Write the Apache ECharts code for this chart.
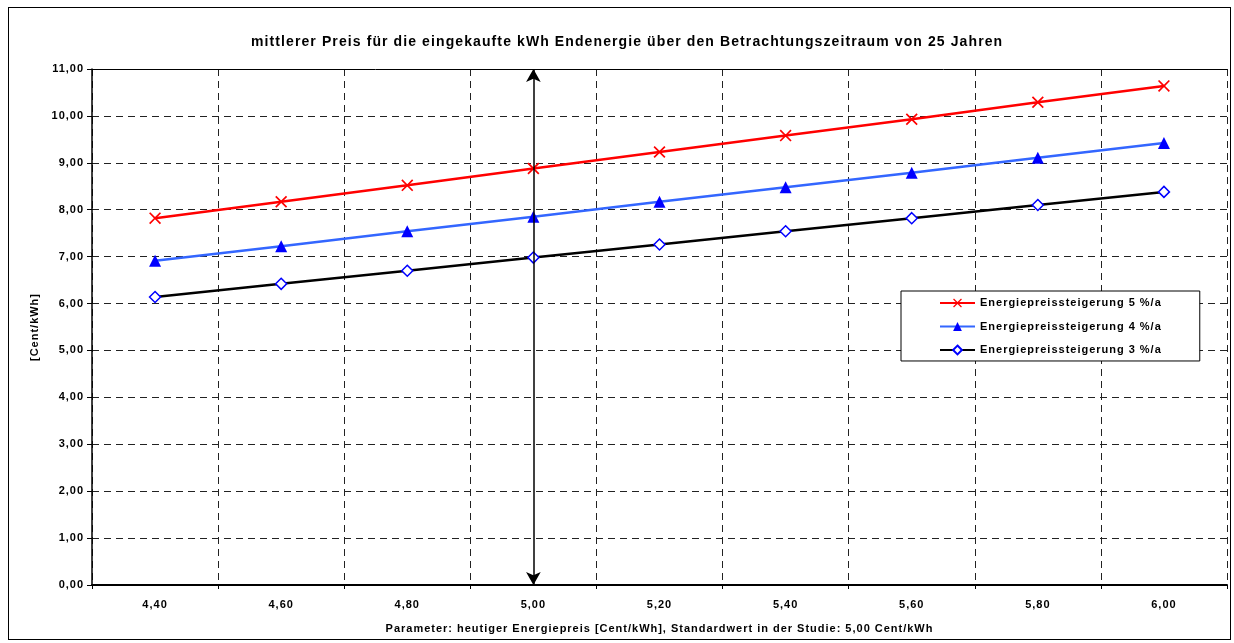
<!DOCTYPE html>
<html><head><meta charset="utf-8">
<script src="https://cdn.jsdelivr.net/npm/echarts@6/dist/echarts.min.js"></script>
<style>
html,body{margin:0;padding:0;background:#fff;}
#frame{position:absolute;left:8px;top:7px;width:1223px;height:633px;border:1px solid #000;box-sizing:border-box;}
#c{position:absolute;left:0;top:0;width:1234px;height:643px;}
</style></head>
<body>
<div id="frame"></div>
<div id="c"></div>
<script>
const categories = ['4,40','4,60','4,80','5,00','5,20','5,40','5,60','5,80','6,00'];
const series5 = [7.82, 8.17, 8.52, 8.88, 9.23, 9.58, 9.93, 10.29, 10.64];
const series4 = [6.91, 7.22, 7.54, 7.85, 8.17, 8.48, 8.79, 9.11, 9.42];
const series3 = [6.14, 6.42, 6.70, 6.98, 7.26, 7.54, 7.82, 8.10, 8.38];
const names = ['Energiepreissteigerung 5 %/a','Energiepreissteigerung 4 %/a','Energiepreissteigerung 3 %/a'];
const markerCategory = '5,00';
const yMin = 0, yMax = 11, yStep = 1;

// Excel-like wider letter spacing for canvas text
(function(){
  const P = CanvasRenderingContext2D.prototype;
  if (!('letterSpacing' in P)) return;
  function setSp(ctx){
    const m = /(\d+(?:\.\d+)?)px/.exec(ctx.font || '');
    const sz = m ? parseFloat(m[1]) : 12;
    ctx.letterSpacing = (sz >= 13 ? 1.1 : sz * 0.09).toFixed(2) + 'px';
  }
  const f = P.fillText, s = P.strokeText, mt = P.measureText;
  P.fillText = function(){ setSp(this); return f.apply(this, arguments); };
  P.strokeText = function(){ setSp(this); return s.apply(this, arguments); };
  P.measureText = function(){ setSp(this); return mt.apply(this, arguments); };
})();

const FONT = 'Liberation Sans, Arial, sans-serif';
const chart = echarts.init(document.getElementById('c'), null, {renderer:'canvas'});
const xPath = 'path://M0,1L1,0L5,4L9,0L10,1L6,5L10,9L9,10L5,6L1,10L0,9L4,5Z';
const dash = [7,5];
chart.setOption({
  animation:false,
  backgroundColor:'transparent',
  title:{text:'mittlerer Preis für die eingekaufte kWh Endenergie über den Betrachtungszeitraum von 25 Jahren',
    left:246, top:30,
    textStyle:{fontFamily:FONT,fontSize:14,fontWeight:'bold',color:'#000'}},
  grid:{left:92,right:7,top:69,bottom:58,containLabel:false},
  legend:{
    orient:'vertical', left:901, top:291,
    padding:[6,38,5,38], itemGap:11.5, itemWidth:35, itemHeight:11,
    backgroundColor:'#fff', borderColor:'#000', borderWidth:1,
    textStyle:{fontFamily:FONT,fontSize:11,fontWeight:'bold',color:'#000'},
    data:names
  },
  xAxis:[{
    type:'category', data:categories, boundaryGap:true,
    name:'Parameter: heutiger Energiepreis [Cent/kWh], Standardwert in der Studie: 5,00 Cent/kWh',
    nameLocation:'middle', nameGap:38,
    nameTextStyle:{fontFamily:FONT,fontSize:11,fontWeight:'bold',color:'#000'},
    axisLine:{lineStyle:{color:'#000',width:2}},
    axisTick:{show:true,length:4,lineStyle:{color:'#000'}},
    axisLabel:{fontFamily:FONT,fontSize:11,fontWeight:'bold',color:'#000',margin:14},
    splitLine:{show:true,lineStyle:{color:'#222',type:dash,width:1}}
  },{
    type:'category', data:categories, position:'top', boundaryGap:true,
    axisLine:{show:true,lineStyle:{color:'#000',width:1}},
    axisTick:{show:false}, axisLabel:{show:false}, splitLine:{show:false}
  }],
  yAxis:{
    type:'value', min:yMin, max:yMax, interval:yStep,
    name:'[Cent/kWh]', nameLocation:'middle', nameGap:51, nameRotate:90,
    nameTextStyle:{fontFamily:FONT,fontSize:11,fontWeight:'bold',color:'#000'},
    axisLine:{show:true,lineStyle:{color:'#000',width:1.5}},
    axisTick:{show:true,length:5,lineStyle:{color:'#000'}},
    axisLabel:{fontFamily:FONT,fontSize:11,fontWeight:'bold',color:'#000',margin:8,
      formatter:v=>v.toFixed(2).replace('.',',')},
    splitLine:{show:true,lineStyle:{color:'#222',type:dash,width:1}}
  },
  series:[
    {name:names[0],type:'line',data:series5,symbol:xPath,symbolSize:12,showAllSymbol:true,
     lineStyle:{color:'#ff0000',width:2.5},itemStyle:{color:'#ff0000'},
     markLine:{silent:true,symbol:['arrow','arrow'],symbolSize:[11,13],label:{show:false},
       lineStyle:{color:'#000',width:1.5,type:'solid'},
       data:[[{coord:[markerCategory,yMin]},{coord:[markerCategory,yMax]}]]}},
    {name:names[1],type:'line',data:series4,symbol:'triangle',symbolSize:12,
     lineStyle:{color:'#3366ff',width:2.5},itemStyle:{color:'#0000ff'}},
    {name:names[2],type:'line',data:series3,symbol:'diamond',symbolSize:11,
     lineStyle:{color:'#000',width:2.5},itemStyle:{color:'#fff',borderColor:'#0000ff',borderWidth:1.5}}
  ]
});
</script>
</body></html>
